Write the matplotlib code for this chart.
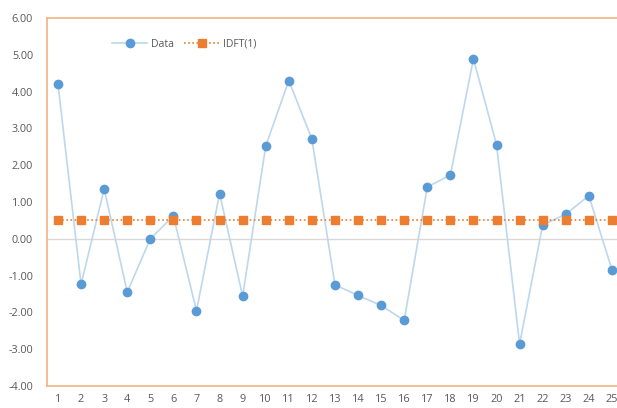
import matplotlib
matplotlib.use("Agg")
import matplotlib.pyplot as plt

x = list(range(1, 26))
data = [4.20, -1.24, 1.36, -1.45, 0.00, 0.62, -1.96, 1.23, -1.56, 2.52,
        4.30, 2.71, -1.25, -1.54, -1.81, -2.22, 1.41, 1.73, 4.89, 2.56,
        -2.86, 0.375, 0.67, 1.17, -0.84]
idft = [0.50] * 25
yticks = [-4, -3, -2, -1, 0, 1, 2, 3, 4, 5, 6]

plt.rcParams['font.family'] = ['Open Sans', 'DejaVu Sans']

fig = plt.figure(figsize=(6.17, 4.08), dpi=100)
ax = fig.add_axes([47/617, 22/408, 1 - 47/617, (386-18)/408])

ax.axhline(0, color='#D9D9D9', lw=1, zorder=1)
ax.plot(x, data, color='#BDD7EE', lw=1.2, marker='o', markersize=6,
        markerfacecolor='#5B9BD5', markeredgecolor='#5B9BD5', label='Data', zorder=3)
ax.plot(x, idft, color='#ED7D31', lw=1.2, ls=(0, (1, 1.5)), marker='s', markersize=6,
        markerfacecolor='#ED7D31', markeredgecolor='#ED7D31', label='IDFT(1)', zorder=4)

ax.set_xlim(0.523, 25.22)
ax.set_ylim(-4, 6)
ax.set_xticks(x)
ax.set_yticks(yticks)
ax.set_yticklabels([f"{v:.2f}" for v in yticks])
ax.tick_params(axis='both', length=0, labelsize=7.8, labelcolor='#595959')
ax.tick_params(axis='x', pad=6)
ax.tick_params(axis='y', pad=10)

for s in ['left', 'top', 'bottom']:
    ax.spines[s].set_color('#F4B183')
    ax.spines[s].set_linewidth(1.2)
ax.spines['right'].set_visible(False)

leg = ax.legend(loc='upper left', bbox_to_anchor=(103/617, 0.928), bbox_transform=fig.transFigure,
                ncol=2, frameon=False, fontsize=7.5, handlelength=3.3, columnspacing=1.0,
                handletextpad=0.4)
for t in leg.get_texts():
    t.set_color('#595959')

fig.savefig('out.png', dpi=100)
